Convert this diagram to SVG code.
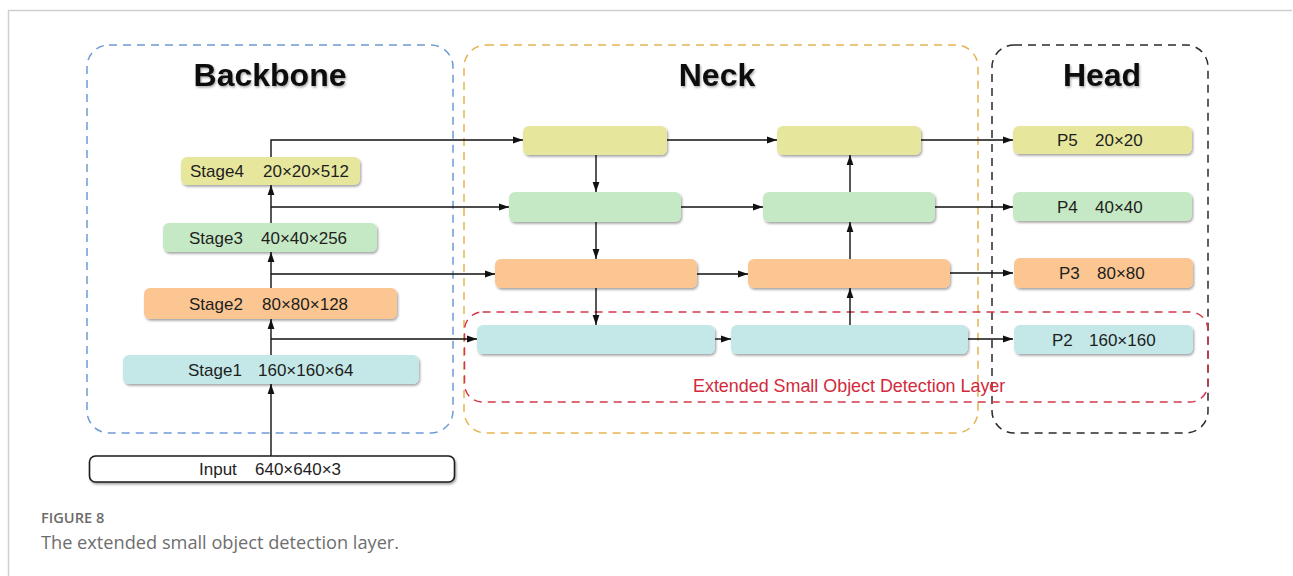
<svg xmlns="http://www.w3.org/2000/svg" width="1293" height="576" viewBox="0 0 1293 576">
  <style>
    .node { stroke: none; filter: url(#shadow); }
    .yellow { fill: #e6e79d; }
    .green { fill: #c6e9c5; }
    .orange { fill: #fbc691; }
    .cyan { fill: #c3e8e7; }
    .input { fill: #ffffff; stroke: #1a1a1a; stroke-width: 1.6; filter: url(#shadow); }
    .label { font-family: "Liberation Sans", Arial, sans-serif; font-size: 17px; fill: #1e1e1e; }
    .title { font-family: "Liberation Sans", Arial, sans-serif; font-size: 32px; font-weight: bold; fill: #111; text-anchor: middle; filter: url(#tshadow); }
    .group { fill: none; stroke-width: 1.5; stroke-dasharray: 8 6; }
    .conn { fill: none; stroke: #111; stroke-width: 1.4; }
    .arrow { marker-end: url(#head); }
  </style>
  <defs>
    <marker id="head" markerWidth="10" markerHeight="8" refX="10" refY="4" orient="auto" markerUnits="userSpaceOnUse">
      <path d="M0,0.6 L10,4 L0,7.4 z" fill="#111"/>
    </marker>
    <filter id="shadow" x="-5%" y="-20%" width="110%" height="150%">
      <feDropShadow dx="1.2" dy="1.8" stdDeviation="0.9" flood-color="#000" flood-opacity="0.35"/>
    </filter>
    <filter id="tshadow" x="-5%" y="-20%" width="110%" height="150%">
      <feDropShadow dx="1" dy="1.5" stdDeviation="1.2" flood-color="#000" flood-opacity="0.35"/>
    </filter>
  </defs>

  <rect width="1293" height="576" fill="#ffffff"/>
  <!-- page frame -->
  <path d="M8.5,576 V10.5 H1292" fill="none" stroke="#cfcfcf" stroke-width="1.5"/>

  <!-- dashed section outlines -->
  <g id="sections">
    <rect class="group" x="87" y="45" width="366" height="388" rx="22" stroke="#6f9bd3"/>
    <rect class="group" x="464" y="45" width="514" height="388" rx="22" stroke="#e5b451"/>
    <rect class="group" x="992" y="45" width="216" height="388" rx="22" stroke="#2b2b2b"/>
    <rect class="group" x="464.5" y="312" width="743.5" height="90" rx="18" stroke="#d2374a"/>
    <text class="title" x="270" y="86">Backbone</text>
    <text class="title" x="717" y="86">Neck</text>
    <text class="title" x="1102" y="86">Head</text>
    <text x="693" y="392" font-family="Liberation Sans, Arial, sans-serif" font-size="17.9" fill="#d22a3c">Extended Small Object Detection Layer</text>
  </g>

  <!-- connectors -->
  <g id="connectors">
    <!-- backbone trunk -->
    <line class="conn arrow" x1="271" y1="456" x2="271" y2="384"/>
    <line class="conn arrow" x1="271" y1="355" x2="271" y2="319"/>
    <line class="conn arrow" x1="271" y1="288" x2="271" y2="252"/>
    <line class="conn arrow" x1="271" y1="223" x2="271" y2="185"/>
    <!-- lateral outputs into the neck -->
    <polyline class="conn arrow" points="271,157 271,140 523,140"/>
    <line class="conn arrow" x1="271" y1="207" x2="509" y2="207"/>
    <line class="conn arrow" x1="271" y1="274" x2="495" y2="274"/>
    <line class="conn arrow" x1="271" y1="339" x2="477" y2="339"/>
    <!-- top-down path -->
    <line class="conn arrow" x1="596" y1="155" x2="596" y2="192"/>
    <line class="conn arrow" x1="596" y1="222" x2="596" y2="259"/>
    <line class="conn arrow" x1="596" y1="288" x2="596" y2="325"/>
    <!-- bottom-up path -->
    <line class="conn arrow" x1="850" y1="325" x2="850" y2="288"/>
    <line class="conn arrow" x1="850" y1="259" x2="850" y2="222"/>
    <line class="conn arrow" x1="850" y1="192" x2="850" y2="155"/>
    <!-- neck horizontal links -->
    <line class="conn arrow" x1="667" y1="140" x2="777" y2="140"/>
    <line class="conn arrow" x1="681" y1="207" x2="763" y2="207"/>
    <line class="conn arrow" x1="697" y1="274" x2="748" y2="274"/>
    <line class="conn arrow" x1="715" y1="339" x2="731" y2="339"/>
    <!-- to head -->
    <line class="conn arrow" x1="921" y1="140" x2="1013" y2="140"/>
    <line class="conn arrow" x1="935" y1="207" x2="1013" y2="207"/>
    <line class="conn arrow" x1="950" y1="273" x2="1013" y2="273"/>
    <line class="conn arrow" x1="968" y1="339" x2="1013" y2="339"/>
  </g>

  <!-- backbone -->
  <g id="input">
    <rect class="input" x="89.5" y="456" width="365" height="26" rx="6"/>
    <text class="label" x="199" y="474.5">Input</text>
    <text class="label" x="255" y="474.5">640×640×3</text>
  </g>
  <g id="stage1">
    <rect class="node cyan" x="123" y="355" width="296" height="29" rx="6"/>
    <text class="label" x="188" y="375.5">Stage1</text>
    <text class="label" x="258" y="375.5">160×160×64</text>
  </g>
  <g id="stage2">
    <rect class="node orange" x="144" y="288" width="253" height="31" rx="6"/>
    <text class="label" x="189" y="309.5">Stage2</text>
    <text class="label" x="262" y="309.5">80×80×128</text>
  </g>
  <g id="stage3">
    <rect class="node green" x="163" y="223" width="214" height="29" rx="6"/>
    <text class="label" x="189" y="243.5">Stage3</text>
    <text class="label" x="261" y="243.5">40×40×256</text>
  </g>
  <g id="stage4">
    <rect class="node yellow" x="181" y="157" width="179" height="28" rx="6"/>
    <text class="label" x="190" y="177">Stage4</text>
    <text class="label" x="263" y="177">20×20×512</text>
  </g>

  <!-- neck, top-down column -->
  <g id="neck-td-p5"><rect class="node yellow" x="523" y="126" width="144" height="29" rx="6"/></g>
  <g id="neck-td-p4"><rect class="node green" x="509" y="192" width="172" height="30" rx="6"/></g>
  <g id="neck-td-p3"><rect class="node orange" x="495" y="259" width="202" height="29" rx="6"/></g>
  <g id="neck-td-p2"><rect class="node cyan" x="477" y="325" width="238" height="29" rx="6"/></g>

  <!-- neck, bottom-up column -->
  <g id="neck-bu-p5"><rect class="node yellow" x="777" y="126" width="144" height="29" rx="6"/></g>
  <g id="neck-bu-p4"><rect class="node green" x="763" y="192" width="172" height="30" rx="6"/></g>
  <g id="neck-bu-p3"><rect class="node orange" x="748" y="259" width="202" height="29" rx="6"/></g>
  <g id="neck-bu-p2"><rect class="node cyan" x="731" y="325" width="237" height="29" rx="6"/></g>

  <!-- head outputs -->
  <g id="p5">
    <rect class="node yellow" x="1013" y="126" width="179" height="28" rx="6"/>
    <text class="label" x="1057" y="146">P5</text>
    <text class="label" x="1095" y="146">20×20</text>
  </g>
  <g id="p4">
    <rect class="node green" x="1013" y="192" width="179" height="29" rx="6"/>
    <text class="label" x="1057" y="212.5">P4</text>
    <text class="label" x="1095" y="212.5">40×40</text>
  </g>
  <g id="p3">
    <rect class="node orange" x="1014" y="258" width="179" height="30" rx="6"/>
    <text class="label" x="1059" y="279">P3</text>
    <text class="label" x="1097" y="279">80×80</text>
  </g>
  <g id="p2">
    <rect class="node cyan" x="1014" y="325" width="179" height="29" rx="6"/>
    <text class="label" x="1052" y="345.5">P2</text>
    <text class="label" x="1089" y="345.5">160×160</text>
  </g>

  <!-- caption -->
  <text x="41" y="523" font-family="Open Sans, Liberation Sans, sans-serif" font-size="14.6" font-weight="600" fill="#6b6b6b">FIGURE 8</text>
  <text x="41" y="549" font-family="Open Sans, Liberation Sans, sans-serif" font-size="18.2" fill="#6e6e6e">The extended small object detection layer.</text>
</svg>
